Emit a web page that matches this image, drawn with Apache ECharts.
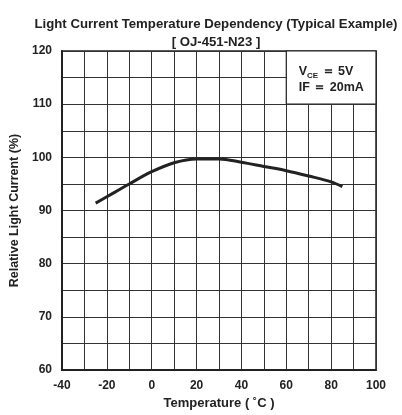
<!DOCTYPE html>
<html>
<head>
<meta charset="utf-8">
<script src="https://cdn.jsdelivr.net/npm/echarts@6/dist/echarts.min.js"></script>
<style>
html, body { margin: 0; padding: 0; background: #fff; }
#main { width: 402px; height: 415px; }
</style>
</head>
<body>
<div id="main"></div>
<script>
"use strict";

var temps = [-25, -20, -10, 0, 10, 20, 30, 40, 50, 60, 70, 80, 85];
var lightCurrent = [91.4, 92.6, 95.0, 97.3, 99.0, 99.7, 99.7, 99.1, 98.3, 97.5, 96.5, 95.4, 94.5];
var conditionBox = [[60, 120], [100, 110]];

var font = '"Liberation Sans", Arial, sans-serif';
var myChart = echarts.init(document.getElementById('main'));

var dataList = temps.map(function (t, i) { return [t, lightCurrent[i]]; });

var option = {
    animation: false,
    backgroundColor: '#fff',
    title: {
        text: 'Light Current Temperature Dependency (Typical Example)\n[ OJ-451-N23 ]',
        left: 211,
        top: 10,
        textAlign: 'center',
        textStyle: {
            fontFamily: font,
            fontSize: 13.2,
            fontWeight: 'bold',
            color: '#222',
            lineHeight: 18
        }
    },
    grid: {
        left: 62,
        right: 26,
        top: 51,
        bottom: 41,
        show: true,
        borderColor: '#222',
        borderWidth: 1.5
    },
    xAxis: {
        type: 'value',
        min: -40,
        max: 100,
        interval: 10,
        name: 'Temperature ( ˚C )',
        nameLocation: 'middle',
        nameGap: 26,
        nameTextStyle: { fontFamily: font, fontSize: 13, fontWeight: 'bold', color: '#222' },
        axisLine: { show: true, onZero: false, lineStyle: { color: '#222', width: 2 } },
        axisTick: { show: false },
        axisLabel: {
            margin: 10,
            fontFamily: font, fontSize: 12, fontWeight: 'bold', color: '#222',
            formatter: function (v) { return v % 20 === 0 ? String(v) : ''; }
        },
        splitLine: { show: true, lineStyle: { color: '#333', width: 1 } }
    },
    yAxis: {
        type: 'value',
        min: 60,
        max: 120,
        interval: 5,
        name: 'Relative Light Current (%)',
        nameLocation: 'middle',
        nameGap: 40,
        nameTextStyle: { fontFamily: font, fontSize: 12.5, fontWeight: 'bold', color: '#222' },
        axisLine: { show: true, onZero: false, lineStyle: { color: '#222', width: 2 } },
        axisTick: { show: false },
        axisLabel: {
            margin: 10,
            fontFamily: font, fontSize: 12, fontWeight: 'bold', color: '#222',
            formatter: function (v) { return v % 10 === 0 ? String(v) : ''; }
        },
        splitLine: { show: true, lineStyle: { color: '#333', width: 1 } }
    },
    series: [{
        type: 'line',
        data: dataList,
        smooth: 0.35,
        showSymbol: false,
        lineStyle: { color: '#222', width: 3 },
        markArea: {
            silent: true,
            itemStyle: { color: '#fff', borderColor: '#222', borderWidth: 1.2 },
            label: {
                show: true,
                position: [13, 13],
                align: 'left',
                verticalAlign: 'top',
                fontFamily: font,
                color: '#222',
                rich: {
                    a: { fontSize: 12.5, fontWeight: 'bold', color: '#222', fontFamily: font, lineHeight: 16 },
                    s: { fontSize: 8, fontWeight: 'bold', color: '#222', fontFamily: font, lineHeight: 16, verticalAlign: 'bottom' }
                },
                formatter: '{a|V}{s|CE}{a| ＝ 5V}\n{a|IF ＝ 20mA}'
            },
            data: [[{ coord: conditionBox[0] }, { coord: conditionBox[1] }]]
        }
    }]
};
myChart.setOption(option);
</script>
</body>
</html>
